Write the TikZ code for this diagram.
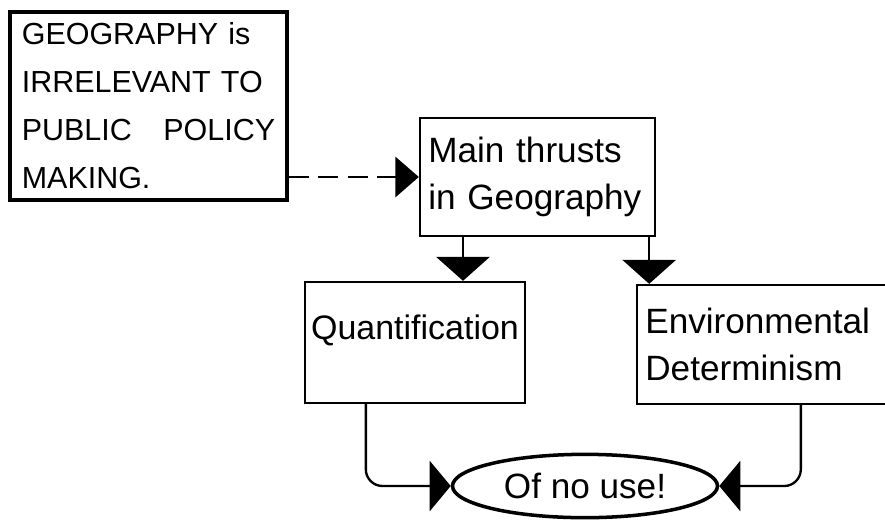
\documentclass[tikz,border=0pt]{standalone}
\usepackage{fontspec}
\setmainfont{Liberation Sans}
\usetikzlibrary{arrows.meta,shapes.geometric}

\begin{document}
\begin{tikzpicture}[
    x=0.03cm, y=-0.03cm,
    font=\fontsize{30}{40}\selectfont,
    box/.style={draw, line width=2pt, inner sep=0.25cm, align=left},
    claimbox/.style={box, line width=3.4pt, inner xsep=0.35cm,
      font=\fontsize{26}{41}\selectfont},
    verdict/.style={draw, ellipse, line width=3pt, inner sep=0pt,
      minimum width=7.95cm, minimum height=1.9cm},
    dasharrow/.style={-{Triangle[length=0.7cm, width=1.2cm]}, line width=2pt,
      dash pattern=on 0.6cm off 0.28cm},
    downarrow/.style={-{Triangle[length=0.72cm, width=1.6cm]}, line width=2.2pt},
    backarrow/.style={-{Triangle[length=0.63cm, width=1.5cm]}, line width=2pt,
      rounded corners=0.5cm}
  ]
    \clip (0,0) rectangle (885,519);
    \node[claimbox, text width=7.6cm, minimum height=5.64cm] (claim) at (148.5,106)
      {GEOGRAPHY is\\IRRELEVANT TO\\PUBLIC\hfill POLICY\\MAKING.};
    \node[box, text width=6.55cm, minimum height=3.54cm] (main) at (537.5,177)
      {Main thrusts\\in Geography};
    \node[box, align=center, text width=6.3cm, inner xsep=0.15cm,
      text depth=0.9cm, minimum height=3.63cm, font=\fontsize{29}{40}\selectfont]
      (quant) at (415,342.5) {Quantification};
    \node[box, text width=7.39cm, minimum height=3.57cm] (env) at (768.5,344.5)
      {Environmental\\Determinism};
    \node[verdict] (nouse) at (585,486) {Of no use!};

    \coordinate (qtop) at ([xshift=1.44cm]quant.north);
    \coordinate (etop) at ([xshift=-0.21cm]main.south east);
    \draw[dasharrow] (claim.east |- main.west) -- (main.west);
    \draw[downarrow] (main.south -| qtop) -- (qtop);
    \draw[downarrow] (etop) -- (etop |- env.north);
    \draw[backarrow] ([xshift=1.86cm]quant.south west) |- (nouse.west);
    \draw[backarrow] ([xshift=4.95cm]env.south west) |- (nouse.east);
  \end{tikzpicture}
\end{document}
